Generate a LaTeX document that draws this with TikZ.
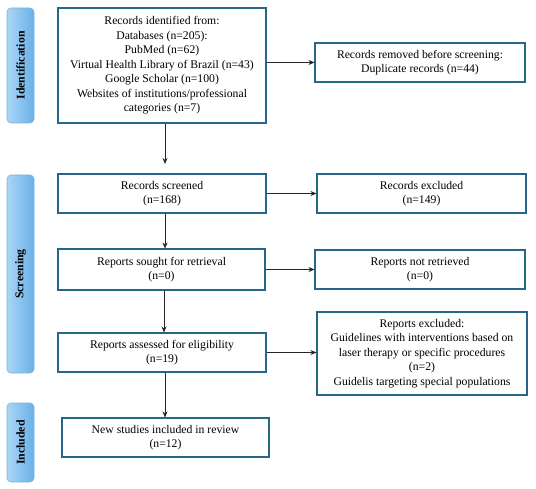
\documentclass[tikz,border=0pt]{standalone}
\usepackage{fontspec}
\setmainfont{Liberation Serif}
\usetikzlibrary{arrows.meta}
\definecolor{boxc}{RGB}{38,102,138}
\definecolor{barL}{RGB}{170,214,245}
\definecolor{barR}{RGB}{105,176,232}
\definecolor{barD}{RGB}{120,180,225}
\tikzset{
  stagebox/.style={draw=boxc, line width=1.1pt, fill=white, align=center, inner sep=0pt,
    font=\fontsize{11.7}{14.5}\selectfont},
  phasebar/.style={draw=barD, line width=0.6pt, rounded corners=4pt, left color=barL, right color=barR},
  phasetext/.style={rotate=90, font=\fontsize{11.8}{13}\selectfont\bfseries, text=black},
  flow/.style={draw=black!85, line width=0.7pt, -{Stealth[length=6pt,width=5pt]}}
}
\begin{document}
\begin{tikzpicture}[x=1pt,y=-1pt]
\useasboundingbox (0,0) rectangle (536,489);
% phase bars
\node[phasebar, minimum width=27pt, minimum height=115pt] (b1) at (20.5,65.5) {};
\node[phasetext] (t1) at (b1.center) {Identification};
\node[phasebar, minimum width=27pt, minimum height=198pt] (b2) at (20.5,274) {};
\node[phasetext] (t2) at (b2.center) {Screening};
\node[phasebar, minimum width=27pt, minimum height=79pt] (b3) at (20.5,442.5) {};
\node[phasetext] (t3) at (b3.center) {Included};
% boxes
\node[stagebox, minimum width=208pt, minimum height=115pt] (id) at (162,65.5)
  {Records identified from:\\Databases (n=205):\\PubMed (n=62)\\Virtual Health Library of Brazil (n=43)\\Google Scholar (n=100)\\Websites of institutions/professional\\categories (n=7)};
\node[stagebox, minimum width=210pt, minimum height=39pt] (dup) at (420,62.5)
  {Records removed before screening:\\Duplicate records (n=44)};
\node[stagebox, minimum width=208pt, minimum height=39pt] (scr) at (162,193.5)
  {Records screened\\(n=168)};
\node[stagebox, minimum width=209pt, minimum height=39pt] (exc1) at (421.5,193.5)
  {Records excluded\\(n=149)};
\node[stagebox, minimum width=207pt, minimum height=41pt] (sought) at (161.5,269.5)
  {Reports sought for retrieval\\(n=0)};
\node[stagebox, minimum width=210pt, minimum height=39pt] (notret) at (420,269.5)
  {Reports not retrieved\\(n=0)};
\node[stagebox, minimum width=208pt, minimum height=39pt] (ass) at (162,352.5)
  {Reports assessed for eligibility\\(n=19)};
\node[stagebox, minimum width=210pt, minimum height=83pt] (exc2) at (422,353.5)
  {Reports excluded:\\Guidelines with interventions based on\\laser therapy or specific procedures\\(n=2)\\Guidelis targeting special populations};
\node[stagebox, minimum width=207pt, minimum height=39pt] (new) at (165.5,437.5)
  {New studies included in review\\(n=12)};
% connectors
\coordinate (e1) at (165,164);
\draw[flow] (id.south -| e1) -- (e1);
\draw[flow] (id.east |- dup) -- (dup.west);
\draw[flow] (scr.south -| 165,0) -- (sought.north -| 165,0);
\draw[flow] (scr.east) -- (exc1.west);
\draw[flow] (sought.east) -- (notret.west);
\draw[flow] (sought.south -| 164,0) -- (ass.north -| 164,0);
\draw[flow] (ass.east) -- (exc2.west |- ass.east);
\draw[flow] (ass.south -| 165,0) -- (new.north -| 165,0);
\end{tikzpicture}
\end{document}
